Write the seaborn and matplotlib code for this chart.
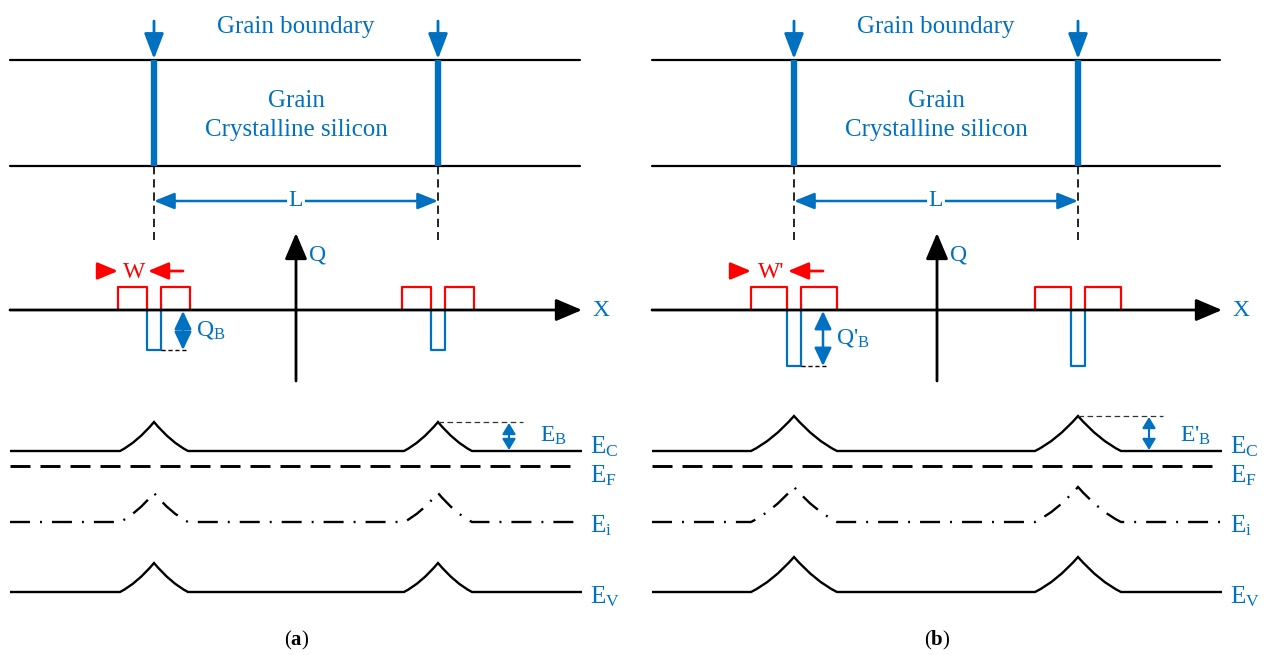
import numpy as np
import pandas as pd
import matplotlib
matplotlib.use("Agg")
import matplotlib.pyplot as plt
import seaborn as sns
from matplotlib.path import Path
from matplotlib.patches import PathPatch

sns.set_theme(style="white")
plt.rcParams['font.family'] = ['Liberation Serif', 'DejaVu Serif']
plt.rcParams['mathtext.fontset'] = 'custom'
plt.rcParams['mathtext.rm'] = 'Liberation Serif'
plt.rcParams['mathtext.it'] = 'Liberation Serif:italic'
plt.rcParams['mathtext.bf'] = 'Liberation Serif:bold'
plt.rcParams['lines.scale_dashes'] = False

BLUE = '#0070C0'
RED = '#FF0000'
BLACK = '#000000'

# ---------------- schematic data ----------------
panel_names = ['a', 'b']
panel_x0 = [10, 652]            # left end of horizontal lines
panel_x1 = [582, 1222]          # right end of horizontal lines
gb_x = [[154, 438], [794, 1078]]  # grain boundary positions
q_axis_x = [296, 937]
slab_y = [60, 166]              # top / bottom of grain slab
red_pulse_w = [29, 36]          # width of positive charge pulses (W, W')
blue_pulse_w = [14, 14]
blue_pulse_depth = [40, 56]     # trapped charge Q_B, Q'_B
red_pulse_h = 23
axis_y = 310
barrier_h = [29, 35]            # E_B, E'_B
barrier_hw = [34, 43]           # half width of band bending
band_names = ['C', 'F', 'i', 'V']
band_y = [451, 466, 522, 592]
band_label_y = [453, 482, 532, 603]
w_labels = ['W', "W'"]
q_labels = [r'Q$_{\mathrm{B}}$', r"Q'$_{\mathrm{B}}$"]
e_labels = [r'E$_{\mathrm{B}}$', r"E'$_{\mathrm{B}}$"]
titles = ['a', 'b']

fig = plt.figure(figsize=(12.65, 6.55), dpi=100)
ax = fig.add_axes([0, 0, 1, 1])
ax.set_xlim(0, 1265)
ax.set_ylim(655, 0)
ax.axis('off')

FS = 17


def arrow(p_from, p_to, color, style='-|>', hl=0.6, hw=0.3, ms=20, lw=1.8):
    ax.annotate('', xy=p_to, xytext=p_from,
                arrowprops=dict(arrowstyle=f'{style},head_length={hl},head_width={hw}',
                                color=color, lw=lw, shrinkA=0, shrinkB=0,
                                mutation_scale=ms))


def band_path(x0, x1, base, gbs, h, hw, k=0.3):
    verts = [(x0, base)]
    codes = [Path.MOVETO]
    for g in gbs:
        verts += [(g - hw, base), (g - 0.5 * hw, base - k * h), (g, base - h),
                  (g + 0.5 * hw, base - k * h), (g + hw, base)]
        codes += [Path.LINETO, Path.CURVE3, Path.CURVE3, Path.CURVE3, Path.CURVE3]
    verts += [(x1, base)]
    codes += [Path.LINETO]
    return Path(verts, codes)


for i, p in enumerate(panel_names):
    x0, x1 = panel_x0[i], panel_x1[i]
    gbs = gb_x[i]
    cx = q_axis_x[i]
    mid = (gbs[0] + gbs[1]) / 2

    # grain slab
    slab = pd.DataFrame({'x': [x0, x1 - 2, x0, x1 - 2],
                         'y': [slab_y[0], slab_y[0], slab_y[1], slab_y[1]],
                         'line': ['top', 'top', 'bot', 'bot']})
    sns.lineplot(data=slab, x='x', y='y', units='line', estimator=None,
                 color=BLACK, lw=1.6, ax=ax, sort=False)
    for g in gbs:
        ax.plot([g, g], slab_y, color=BLUE, lw=4.6, solid_capstyle='butt')
        arrow((g, 21), (g, slab_y[0] - 1), BLUE, hl=0.78, hw=0.3, lw=2.0)
        ax.plot([g, g], [slab_y[1], 240], color=BLACK, lw=1.2, dashes=(6, 3.5))
    ax.text(mid, 33, 'Grain boundary', color=BLUE, fontsize=FS + 1,
            ha='center', va='baseline')
    ax.text(mid, 107, 'Grain', color=BLUE, fontsize=FS + 1, ha='center', va='baseline')
    ax.text(mid, 136, 'Crystalline silicon', color=BLUE, fontsize=FS + 1,
            ha='center', va='baseline')

    # L dimension
    arrow((gbs[0], 201), (gbs[1], 201), BLUE, style='<|-|>', hl=0.62, hw=0.25, lw=1.8)
    ax.text(mid, 201, 'L', color=BLUE, fontsize=FS, ha='center', va='center',
            bbox=dict(facecolor='white', edgecolor='none', pad=1.0))

    # charge axes
    arrow((cx, 381), (cx, 233), BLACK, hl=0.8, hw=0.34, lw=2.0)
    ax.text(cx + 13, 255, 'Q', color=BLUE, fontsize=FS, ha='left', va='center')
    arrow((x0, axis_y), (x1, axis_y), BLACK, hl=0.8, hw=0.34, lw=2.0)
    ax.text(x1 + 10, axis_y, 'X', color=BLUE, fontsize=FS, ha='left', va='center')

    rw, bw, bd = red_pulse_w[i], blue_pulse_w[i], blue_pulse_depth[i]
    top = axis_y - red_pulse_h
    for g in gbs:
        l, r = g - bw / 2, g + bw / 2
        ax.plot([l - rw, l - rw, l, l], [axis_y, top, top, axis_y], color=RED, lw=1.6)
        ax.plot([r, r, r + rw, r + rw], [axis_y, top, top, axis_y], color=RED, lw=1.6)
        ax.plot([l, l, r, r], [axis_y, axis_y + bd, axis_y + bd, axis_y],
                color=BLUE, lw=1.6)

    g = gbs[0]
    l, r = g - bw / 2, g + bw / 2
    ax.plot([r, r + 27], [axis_y + bd] * 2, color=BLACK, lw=1.0, dashes=(3, 2))
    arrow((r + 22, axis_y + 1), (r + 22, axis_y + bd), BLUE, style='<|-|>',
          hl=0.55, hw=0.26, lw=1.8)
    ax.text(r + 35, axis_y + bd / 2, q_labels[i], color=BLUE, fontsize=FS,
            ha='left', va='center')
    # W arrows
    arrow((l - rw - 19, 271), (l - rw, 271), RED, hl=0.62, hw=0.26, lw=2.0)
    arrow((r + 22, 271), (l + 1, 271), RED, hl=0.62, hw=0.26, lw=2.0)
    ax.text(l - rw / 2 + 2, 272, w_labels[i], color=RED, fontsize=FS,
            ha='center', va='center')

    # band diagram
    h, hw = barrier_h[i], barrier_hw[i]
    styles = [dict(lw=1.7, linestyle='-'),
              dict(lw=2.1, linestyle=(0, (14.4, 7.2))),
              dict(lw=1.7, linestyle=(0, (14.4, 7.2, 1.4, 7.2))),
              dict(lw=1.7, linestyle='-')]
    for name, base, ly, st in zip(band_names, band_y, band_label_y, styles):
        if name == 'F':
            ax.plot([x0, x1 - 7], [base, base], color=BLACK, **st)
        else:
            patch = PathPatch(band_path(x0, x1, base, gbs, h, hw),
                              facecolor='none', edgecolor=BLACK,
                              capstyle='butt', joinstyle='miter', **st)
            ax.add_patch(patch)
        ax.text(x1 + 8, ly, r'E$_{\mathrm{%s}}$' % name, color=BLUE,
                fontsize=FS + 1, ha='left', va='baseline')

    g2 = gbs[1]
    ec, peak = band_y[0], band_y[0] - h
    ax.plot([g2, g2 + 85], [peak, peak], color='#333333', lw=0.9, dashes=(4, 2.5))
    arrow((g2 + 71, peak + 1), (g2 + 71, ec - 1), BLUE, style='<|-|>',
          hl=0.33, hw=0.2, lw=1.5)
    ax.text(g2 + 102, 442, e_labels[i], color=BLUE, fontsize=FS,
            ha='left', va='baseline')

    ax.text(mid + 1, 645, r'($\mathbf{%s}$)' % titles[i], color=BLACK,
            fontsize=15, ha='center', va='baseline')

ax.set_xlim(0, 1265)
ax.set_ylim(655, 0)
fig.savefig('out.png', dpi=100)
